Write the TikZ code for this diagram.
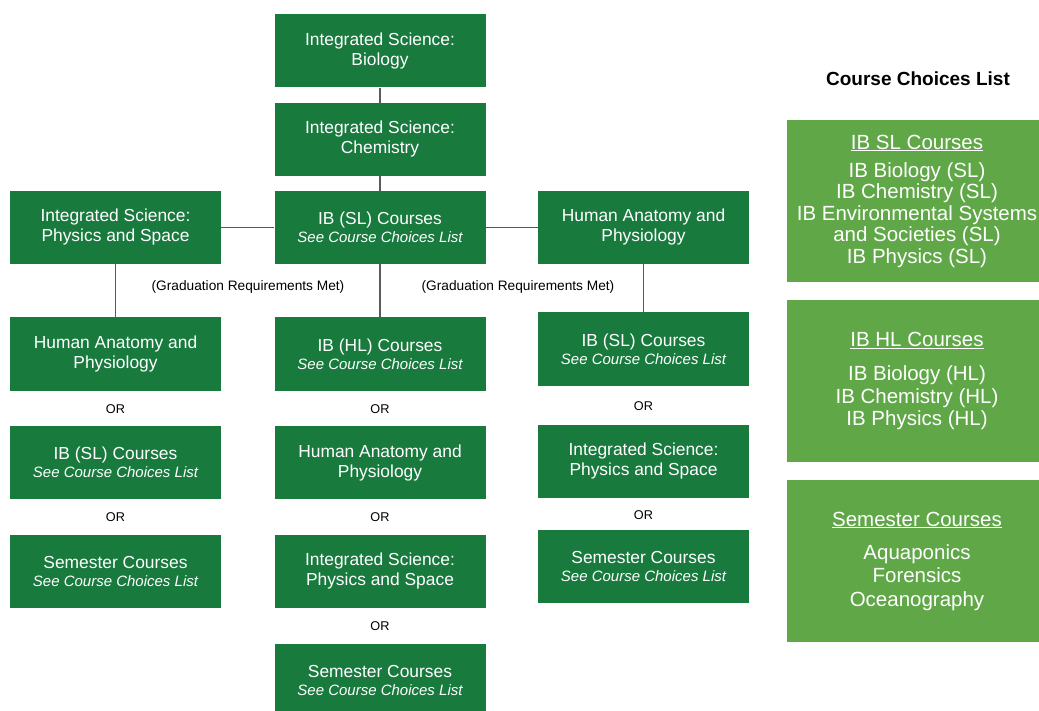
\documentclass[tikz,border=0pt]{standalone}
\usepackage{fontspec}
\setmainfont{Liberation Sans}
\usepackage{tikz}
\usetikzlibrary{positioning}
\definecolor{coursegreen}{RGB}{25,122,62}
\definecolor{listgreen}{RGB}{96,167,72}
\definecolor{linkgray}{RGB}{90,90,90}
\newcommand\boxwidth{211}
\newcommand\seelist{{\fontsize{15}{18}\selectfont\itshape See Course Choices List}}
\tikzset{course/.style={rectangle, fill=coursegreen, text=white, minimum width=\boxwidth pt, minimum height=73pt, inner sep=0pt, align=center, font=\fontsize{17.4}{20}\selectfont}}
\tikzset{choicebox/.style={rectangle, fill=listgreen, text=white, minimum width=260pt, minimum height=162pt, inner sep=0pt, align=center}}
\tikzset{orlabel/.style={font=\fontsize{12.7}{14}\selectfont, inner sep=0pt}}
\tikzset{gradnote/.style={font=\fontsize{13.7}{16}\selectfont, inner sep=0pt}}
\tikzset{link/.style={draw=linkgray, line width=1.2pt}}

\begin{document}
\begin{tikzpicture}[x=1pt, y=-1pt]
\useasboundingbox[fill=white] (0,0) rectangle (1039,711);

% middle path
\node[course] (bio)  at (380,51)    {Integrated Science:\\Biology};
\node[course] (chem) at (380,139.5) {Integrated Science:\\Chemistry};
\node[course] (ibsl) at (380,227.5) {IB (SL) Courses\\[-2pt]\seelist};
\node[course] (physA) at (115.5,227.5) {Integrated Science:\\Physics and Space};
\node[course] (hapA)  at (643.5,227.5) {Human Anatomy and\\Physiology};

% left column
\node[course] (hapB)  at (115.5,354)   {Human Anatomy and\\Physiology};
\node[course] (ibslB) at (115.5,462.5) {IB (SL) Courses\\[-2pt]\seelist};
\node[course] (semB)  at (115.5,571)   {Semester Courses\\[-2pt]\seelist};

% center column
\node[course] (ibhl)  at (380,354)   {IB (HL) Courses\\[-2pt]\seelist};
\node[course] (hapC)  at (380,462.5) {Human Anatomy and\\Physiology};
\node[course] (physC) at (380,571)   {Integrated Science:\\Physics and Space};
\node[course] (semC)  at (380,680.5) {Semester Courses\\[-2pt]\seelist};

% right column
\node[course] (ibslD) at (643.5,349)   {IB (SL) Courses\\[-2pt]\seelist};
\node[course] (physD) at (643.5,461.5) {Integrated Science:\\Physics and Space};
\node[course] (semD)  at (643.5,566)   {Semester Courses\\[-2pt]\seelist};

\foreach \x/\y [count=\i] in {115.5/409, 115.5/517, 380/409, 380/517, 380/626, 643.5/406, 643.5/515} {
	\node[orlabel] (or\i) at (\x,\y) {OR};
}

\node[gradnote] (gradA) at (248,287) {(Graduation Requirements Met)};
\node[gradnote] (gradB) at (518,287) {(Graduation Requirements Met)};

\draw[link] (bio) -- (chem);
\draw[link] (chem) -- (ibsl);
\draw[link] (physA) -- (ibsl);
\draw[link] (ibsl) -- (hapA);
\draw[link] (physA) -- (hapB);
\draw[link] (ibsl) -- (ibhl);
\draw[link] (hapA) -- (ibslD);

% course choices list
\node[font=\fontsize{19}{22}\selectfont\bfseries] (listtitle) at (918,79) {Course Choices List};
\node[choicebox, font=\fontsize{20.5}{21.5}\selectfont] (slbox) at (917,201)
  {\underline{IB SL Courses}\\[6.5pt]IB Biology (SL)\\IB Chemistry (SL)\\IB Environmental Systems\\and Societies (SL)\\IB Physics (SL)};
\node[choicebox, font=\fontsize{20.5}{22.5}\selectfont] (hlbox) at (917,381)
  {\underline{IB HL Courses}\\[11.5pt]IB Biology (HL)\\IB Chemistry (HL)\\IB Physics (HL)};
\node[choicebox, font=\fontsize{20.5}{23.5}\selectfont] (sembox) at (917,561)
  {\underline{Semester Courses}\\[9.5pt]Aquaponics\\Forensics\\Oceanography};
\end{tikzpicture}
\end{document}
